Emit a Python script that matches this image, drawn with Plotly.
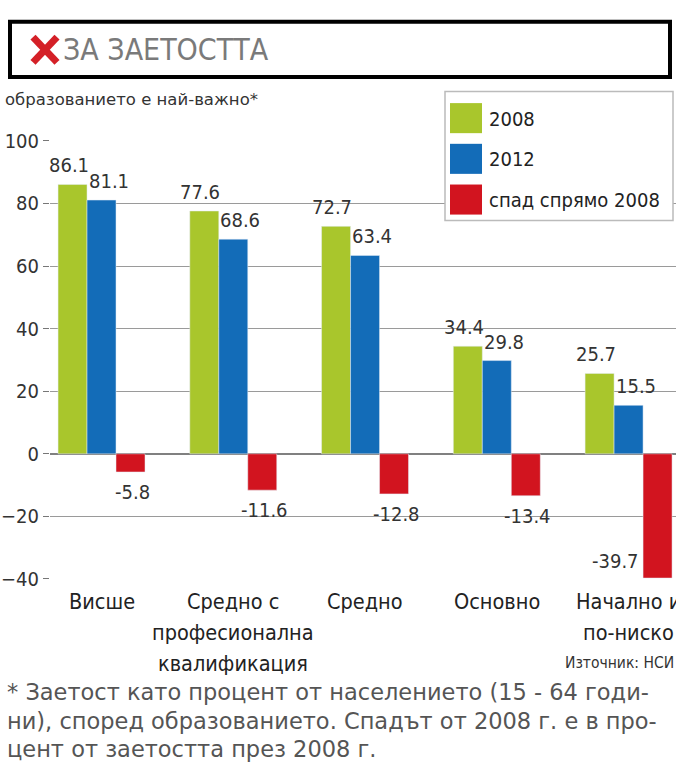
import plotly.graph_objects as go

categories = ["Висше", "Средно с<br>професионална<br>квалификация", "Средно", "Основно", "Начално и<br>по-ниско"]
series_names = ["2008", "2012", "спад спрямо 2008"]
values_2008 = [86.1, 77.6, 72.7, 34.4, 25.7]
values_2012 = [81.1, 68.6, 63.4, 29.8, 15.5]
values_drop = [-5.8, -11.6, -12.8, -13.4, -39.7]
y_ticks = [-40, -20, 0, 20, 40, 60, 80, 100]

colors = ["#a9c62c", "#136cb8", "#d2141f"]
W, H = 676, 780
FONT = "DejaVu Sans Condensed, Liberation Sans Narrow, Arial Narrow, sans-serif"
FONT_WIDE = "DejaVu Sans, Verdana, sans-serif"
BAR_PX = 29          # approximate bar width in px, for label offsets
LABEL_NUDGE = [-4, 7, 2]


def px(x):
    return x / W


def py(y):
    return 1 - y / H


fig = go.Figure()
annotations = []
all_series = [values_2008, values_2012, values_drop]
for s, (name, vals, col) in enumerate(zip(series_names, all_series, colors)):
    fig.add_trace(go.Bar(
        x=categories, y=vals, name=name, marker_color=col, showlegend=False,
    ))
    for i, (cat, v) in enumerate(zip(categories, vals)):
        ann = dict(x=cat, y=v, xref="x", yref="y", text=f"{v:.1f}", showarrow=False,
                   font=dict(size=20, color="#333333", family=FONT))
        if v >= 0:
            ann.update(xanchor="center", yanchor="bottom", yshift=5,
                       xshift=(s - 1) * BAR_PX + LABEL_NUDGE[s])
        elif i == len(vals) - 1 and s == 2:
            ann.update(xanchor="right", yanchor="bottom", yshift=3, xshift=(s - 1) * BAR_PX - 17)
        else:
            ann.update(xanchor="center", yanchor="top", yshift=-6,
                       xshift=(s - 1) * BAR_PX + LABEL_NUDGE[s])
        annotations.append(ann)

# category labels (one annotation per line for wider line spacing)
for cat in categories:
    for j, part in enumerate(cat.split("<br>")):
        annotations.append(dict(x=cat, y=py(608 + 32 * j), xref="x", yref="paper", text=part,
                                showarrow=False, xanchor="center", yanchor="middle",
                                font=dict(size=21.5, color="#222222", family=FONT)))

fig.update_layout(
    width=W, height=H, autosize=False,
    margin=dict(l=0, r=0, t=0, b=0),
    paper_bgcolor="white", plot_bgcolor="white",
    barmode="group", bargap=0.34, bargroupgap=0,
    showlegend=False,
    font=dict(family=FONT, color="#222222"),
)
fig.update_xaxes(
    domain=[px(50), 1], range=[-0.391, 4.36], showgrid=False, showline=False,
    ticks="", showticklabels=False,
)
fig.update_yaxes(
    domain=[py(585), py(133)], range=[-40, 100],
    tickvals=y_ticks, ticks="outside", ticklen=6, tickcolor="#777777",
    showgrid=True, gridcolor="#9a9a9a", gridwidth=1,
    zeroline=True, zerolinecolor="#808080", zerolinewidth=1.5,
    tickfont=dict(size=20, color="#333333", family=FONT),
)

shapes = []
# title box
shapes.append(dict(type="rect", xref="paper", yref="paper", x0=px(10), x1=px(670), y0=py(10), y1=py(67),
                   line=dict(color="black", width=4), fillcolor="white", layer="below"))
# red cross mark
for (x0, y0, x1, y1) in [(33, 26, 57, 52), (57, 26, 33, 52)]:
    shapes.append(dict(type="line", xref="paper", yref="paper", x0=px(x0), y0=py(y0), x1=px(x1), y1=py(y1),
                       line=dict(color="#d42027", width=7)))
annotations.append(dict(xref="paper", yref="paper", x=px(61), y=py(39), text="ЗА ЗАЕТОСТТА", showarrow=False,
                        xanchor="left", yanchor="middle", font=dict(size=30, color="#7a7a7a", family=FONT)))
annotations.append(dict(xref="paper", yref="paper", x=px(3), y=py(90), text="образованието е най-важно*",
                        showarrow=False, xanchor="left", yanchor="middle",
                        font=dict(size=16.5, color="#333333", family=FONT_WIDE)))

# custom legend
shapes.append(dict(type="rect", xref="paper", yref="paper", x0=px(445), x1=px(673), y0=py(82), y1=py(215),
                   line=dict(color="#bbbbbb", width=1.5), fillcolor="white"))
for i, (name, col) in enumerate(zip(series_names, colors)):
    top = 94 + 42 * i
    shapes.append(dict(type="rect", xref="paper", yref="paper", x0=px(450), x1=px(482),
                       y0=py(top), y1=py(top + 31), line=dict(width=0), fillcolor=col))
    annotations.append(dict(xref="paper", yref="paper", x=px(487), y=py(top + 16), text=name,
                            showarrow=False, xanchor="left", yanchor="middle",
                            font=dict(size=20, color="#222222", family=FONT)))

annotations.append(dict(xref="paper", yref="paper", x=1, y=py(672), text="Източник: НСИ",
                        showarrow=False, xanchor="right", yanchor="middle",
                        font=dict(size=15.5, color="#333333", family=FONT)))

foot = ["* Заетост като процент от населението (15 - 64 годи-",
        "ни), според образованието. Спадът от 2008 г. е в про-",
        "цент от заетостта през 2008 г."]
for i, line in enumerate(foot):
    annotations.append(dict(xref="paper", yref="paper", x=px(5), y=py(702 + 29 * i), text=line,
                            showarrow=False, xanchor="left", yanchor="middle",
                            font=dict(size=22.5, color="#555555", family=FONT_WIDE)))

fig.update_layout(shapes=shapes, annotations=annotations)
# remove the default 8px page margin so the 676x780 figure fills the window exactly
fig.write_html("out.html", config={"displayModeBar": False},
               post_script="document.body.style.margin='0';")
